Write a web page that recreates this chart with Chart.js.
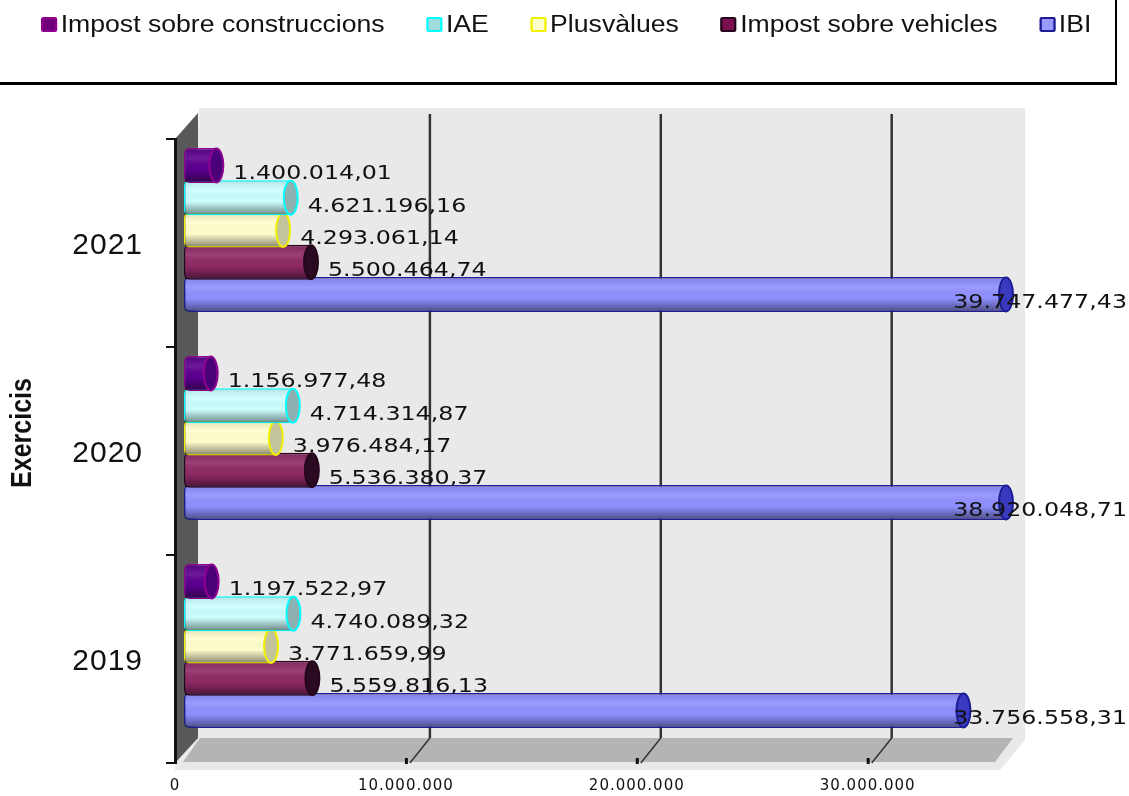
<!DOCTYPE html>
<html>
<head>
<meta charset="utf-8">
<title>Exercicis</title>
<script src="https://cdn.jsdelivr.net/npm/chart.js@4"></script>
<style>
  html, body { margin: 0; padding: 0; background: #fff; }
  #page { position: relative; width: 1129px; height: 796px; overflow: hidden; }
  #dataChart { position: absolute; left: 0; top: 0; }
  #legendBox { position: absolute; left: 0; top: 0; width: 1115px; height: 82px; border-right: 2px solid #000; border-bottom: 3px solid #000; }
  #legend { position: absolute; left: 41px; top: 11px; display: flex; gap: 36px; white-space: nowrap; transform: scaleX(1.157); transform-origin: left top; font: 23px "Liberation Sans", Arial, sans-serif; color: #111; }
  .item { display: flex; align-items: center; gap: 3px; }
  .swatch { display: inline-block; width: 10px; height: 11px; border: 2px solid; border-radius: 2px; }
</style>
</head>
<body>
<div id="page">
  <canvas id="dataChart" width="1129" height="796"></canvas>
  <div id="legendBox"><div id="legend"></div></div>
</div>
<script>
// Sample data
const categories = ['2021', '2020', '2019'];
const seriesNames = ['Impost sobre construccions', 'IAE', 'Plusvàlues', 'Impost sobre vehicles', 'IBI'];
const construccions = [1400014.01, 1156977.48, 1197522.97];
const iae = [4621196.16, 4714314.87, 4740089.32];
const plusvalues = [4293061.14, 3976484.17, 3771659.99];
const vehicles = [5500464.74, 5536380.37, 5559816.13];
const ibi = [39747477.43, 38920048.71, 33756558.31];
const seriesValues = [construccions, iae, plusvalues, vehicles, ibi];
const xTickValues = [0, 10000000, 20000000, 30000000];
const xTickLabels = ['0', '10.000.000', '20.000.000', '30.000.000'];
const yAxisTitle = 'Exercicis';

// Colours per series: body, edge, bar end
const bodyColors = ['#5c0090', '#ccffff', '#ffffcc', '#8f2a66', '#9090ff'];
const edgeColors = ['#900090', '#00ffff', '#f0f000', '#26061c', '#1c1c96'];
const capColors = ['#4a0078', '#8fb0b0', '#c4c49c', '#2a0a20', '#3a3ac0'];
const swatchColors = ['#70007a', '#a0dcdc', '#ffffcc', '#7a1050', '#9999ff'];

// The bars sit halfway into the depth of the box
const BAR_DX = 9, BAR_DY = -13;
const DEPTH_DX = 24, DEPTH_DY = -25;

function polygon(ctx, pts, fill) {
  ctx.beginPath();
  pts.forEach((p, i) => i ? ctx.lineTo(p[0], p[1]) : ctx.moveTo(p[0], p[1]));
  ctx.closePath();
  ctx.fillStyle = fill;
  ctx.fill();
}

const box3d = {
  id: 'box3d',
  beforeDraw(chart) {
    const { ctx, chartArea: a, scales: { x } } = chart;
    ctx.save();
    // wall, with the light edge running under the floor
    polygon(ctx, [[a.left, a.bottom + 7], [a.left + DEPTH_DX, a.top + DEPTH_DY - 6], [a.right + 28, a.top + DEPTH_DY - 6], [a.right + 28, a.bottom + DEPTH_DY + 2], [a.right + 3, a.bottom + 7]], '#e9e9e9');
    // floor
    polygon(ctx, [[a.left + 8, a.bottom - 1], [a.left + DEPTH_DX + 1, a.bottom + DEPTH_DY], [a.right + 16, a.bottom + DEPTH_DY], [a.right - 2, a.bottom - 1]], '#b4b4b4');
    // left side
    polygon(ctx, [[a.left, a.top], [a.left + DEPTH_DX - 1, a.top + DEPTH_DY - 1], [a.left + DEPTH_DX - 1, a.bottom + DEPTH_DY], [a.left, a.bottom]], '#585858');
    // grid lines on the wall and floor, from the x scale
    ctx.strokeStyle = '#333';
    x.ticks.forEach((t, i) => {
      if (!i) return;
      const px = x.getPixelForTick(i);
      ctx.lineWidth = 2.5;
      ctx.beginPath();
      ctx.moveTo(px + DEPTH_DX, a.top + DEPTH_DY);
      ctx.lineTo(px + DEPTH_DX, a.bottom + DEPTH_DY);
      ctx.stroke();
      ctx.lineWidth = 1.5;
      ctx.beginPath();
      ctx.moveTo(px + DEPTH_DX, a.bottom + DEPTH_DY);
      ctx.lineTo(px + 4, a.bottom);
      ctx.stroke();
      ctx.fillStyle = '#111';
      ctx.fillRect(px - 1, a.bottom - 5, 3, 6);
    });
    ctx.restore();
    // wider set tick labels, like the stretched original
    ctx.letterSpacing = '1px';
  },
  beforeDatasetDraw(chart) {
    chart.ctx.save();
    chart.ctx.translate(BAR_DX, BAR_DY);
  },
  afterDatasetDraw(chart, args) {
    const { ctx, chartArea: a } = chart;
    const i = args.index;
    args.meta.data.forEach(bar => {
      const end = Math.min(bar.x, a.right);
      const top = bar.y - bar.height / 2, h = bar.height;
      // shading across the cylinder
      const g = ctx.createLinearGradient(0, top, 0, top + h);
      g.addColorStop(0, 'rgba(0,0,0,0.12)');
      g.addColorStop(0.3, 'rgba(255,255,255,0.1)');
      g.addColorStop(0.6, 'rgba(0,0,0,0)');
      g.addColorStop(1, 'rgba(0,0,0,0.48)');
      ctx.fillStyle = g;
      ctx.fillRect(bar.base + 1, top + 1, end - bar.base - 1, h - 2);
      // bar end
      ctx.beginPath();
      ctx.ellipse(end, bar.y, 7, h / 2 - 0.5, 0, 0, Math.PI * 2);
      ctx.fillStyle = capColors[i];
      ctx.fill();
      ctx.lineWidth = 2;
      ctx.strokeStyle = edgeColors[i];
      ctx.stroke();
    });
    ctx.restore();
  },
  afterDatasetsDraw(chart) {
    const { ctx, chartArea: a } = chart;
    ctx.save();
    ctx.letterSpacing = '0px';
    ctx.font = '19px "DejaVu Sans"';
    ctx.fillStyle = '#111';
    ctx.textBaseline = 'middle';
    const stretch = 1.25;
    chart.data.datasets.forEach((ds, i) => {
      chart.getDatasetMeta(i).data.forEach((bar, j) => {
        const txt = ds.data[j].toLocaleString('de-DE', { minimumFractionDigits: 2, maximumFractionDigits: 2 });
        const w = ctx.measureText(txt).width * stretch;
        const left = Math.min(Math.min(bar.x, a.right) + BAR_DX + 17, chart.width - 2 - w);
        ctx.save();
        ctx.translate(left, bar.y + BAR_DY + 9);
        ctx.scale(stretch, 1);
        ctx.fillText(txt, 0, 0);
        ctx.restore();
      });
    });
    // axis title, off centre and stretched across its height
    ctx.font = 'bold 25px "Liberation Sans"';
    ctx.textAlign = 'center';
    ctx.translate(23, 433);
    ctx.rotate(-Math.PI / 2);
    ctx.scale(1, 1.15);
    ctx.fillText(yAxisTitle, 0, 0);
    ctx.restore();
  }
};

// Build legend
function initLegend() {
  const legend = document.getElementById('legend');
  seriesNames.forEach((name, i) => {
    const item = document.createElement('span');
    item.className = 'item';
    const sw = document.createElement('span');
    sw.className = 'swatch';
    sw.style.background = swatchColors[i];
    sw.style.borderColor = edgeColors[i];
    const label = document.createElement('span');
    label.textContent = name;
    item.append(sw, label);
    legend.appendChild(item);
  });
}

function renderChart() {
  new Chart(document.getElementById('dataChart'), {
    type: 'bar',
    plugins: [box3d],
    data: {
      labels: categories,
      datasets: seriesNames.map((name, i) => ({
        label: name,
        data: seriesValues[i],
        backgroundColor: bodyColors[i],
        borderColor: edgeColors[i],
        borderWidth: 1.5,
        borderSkipped: false,
        borderRadius: { topLeft: 5, bottomLeft: 5, topRight: 0, bottomRight: 0 },
        categoryPercentage: 0.775,
        barPercentage: 1.08
      }))
    },
    options: {
      indexAxis: 'y',
      responsive: false,
      animation: false,
      layout: { padding: { top: 139, right: 132, bottom: 0, left: 0 } },
      plugins: { legend: { display: false }, tooltip: { enabled: false } },
      scales: {
        x: {
          min: 0,
          max: 35600000,
          grid: { display: false },
          border: { display: false },
          afterFit: s => { s.height = 33; },
          afterBuildTicks: s => { s.ticks = xTickValues.map(v => ({ value: v })); },
          ticks: {
            maxRotation: 0,
            padding: 6,
            color: '#111',
            font: { family: '"DejaVu Sans"', size: 15 },
            callback: (v, i) => xTickLabels[i]
          }
        },
        y: {
          afterFit: s => { s.width = 175; s.paddingTop = 0; s.paddingBottom = 0; },
          border: { display: true, color: '#111', width: 3 },
          grid: { drawOnChartArea: false, color: '#111', tickLength: 9, lineWidth: 2 },
          ticks: {
            padding: 23,
            labelOffset: 3,
            color: '#111',
            font: { family: '"Liberation Sans"', size: 30 }
          }
        }
      }
    }
  });
}

document.addEventListener('DOMContentLoaded', () => {
  initLegend();
  renderChart();
});
</script>
</body>
</html>
